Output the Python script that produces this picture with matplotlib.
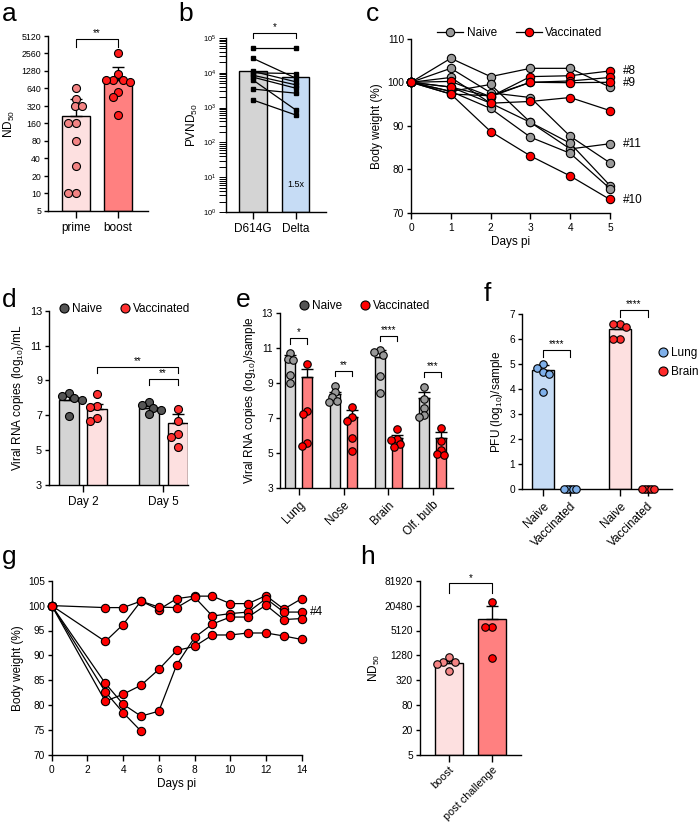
import numpy as np
import matplotlib
matplotlib.use('Agg')
import matplotlib.pyplot as plt
from matplotlib.lines import Line2D
from matplotlib.ticker import LogLocator, NullFormatter

plt.rcParams['font.family'] = ['Liberation Sans', 'DejaVu Sans']
plt.rcParams['mathtext.fontset'] = 'custom'
plt.rcParams['mathtext.rm'] = 'Liberation Sans'
plt.rcParams['mathtext.it'] = 'Liberation Sans:italic'
plt.rcParams['mathtext.bf'] = 'Liberation Sans:bold'
plt.rcParams['axes.linewidth'] = 1.0

# ---------------- data ----------------
# a
a_groups = ['prime', 'boost']
a_prime = [640, 430, 320, 320, 160, 160, 80, 30, 10, 10]
a_boost = [2560, 1140, 900, 900, 900, 822, 567, 453, 222]
a_means = [218, 886]
a_err_top = [422, 1518]
a_yticks = [5, 10, 20, 40, 80, 160, 320, 640, 1280, 2560, 5120]

# b
b_groups = ['D614G', 'Delta']
b_d614g = [53000, 26000, 11000, 10000, 8500, 7500, 6200, 3400, 1650]
b_delta = [53000, 7000, 5500, 9500, 4500, 3600, 850, 2600, 610]
b_means = [11500, 7700]
b_fold = '1.5x'

# c
c_days = [0, 1, 2, 3, 4, 5]
c_naive = [[100, 105.5, 101.3, 103.2, 103.2, 98.9],
           [100, 103.2, 97.6, 96.5, 87.6, 81.5],
           [100, 101.1, 95.2, 90.8, 84.7, 85.9],
           [100, 97.9, 99.5, 90.8, 86.0, 76.3],
           [100, 97.9, 94.0, 87.4, 83.7, 75.6]]
c_vacc = [[100, 100.2, 96.7, 101.3, 101.5, 102.6],
          [100, 98.9, 96.7, 100.0, 100.3, 101.1],
          [100, 97.3, 96.9, 100.0, 99.9, 100.0],
          [100, 98.9, 95.2, 95.6, 96.5, 93.5],
          [100, 97.3, 88.7, 83.1, 78.5, 73.1]]
c_ids = ['#8', '#9', '#11', '#10']
c_id_y = [102.7, 99.8, 85.8, 72.9]

# d
d_days = ['Day 2', 'Day 5']
d_naive = [[8.3, 8.1, 8.0, 7.9, 6.95], [7.75, 7.6, 7.4, 7.3, 7.05]]
d_vacc = [[8.2, 7.55, 7.5, 6.85, 6.7], [7.35, 6.65, 5.95, 5.75, 5.2]]
d_naive_means = [7.85, 7.42]
d_naive_err = [8.1, 7.55]
d_vacc_means = [7.36, 6.58]
d_vacc_err = [7.65, 7.05]

# e
e_tissues = ['Lung', 'Nose', 'Brain', 'Olf. bulb']
e_naive = [[10.7, 10.4, 10.3, 9.45, 9.0], [8.85, 8.5, 8.2, 8.0, 7.9],
           [10.9, 10.8, 10.6, 9.4, 8.45], [8.8, 8.1, 7.55, 7.15, 7.05]]
e_vacc = [[10.1, 7.4, 7.2, 5.55, 5.4], [7.65, 7.05, 6.85, 5.85, 5.1],
          [6.35, 5.8, 5.75, 5.5, 5.35], [6.45, 5.65, 5.15, 4.95, 4.85]]
e_naive_means = [10.32, 8.35, 10.5, 8.16]
e_naive_err = [10.6, 8.5, 10.9, 8.5]
e_vacc_means = [9.37, 7.03, 5.83, 5.87]
e_vacc_err = [9.8, 7.45, 6.05, 6.2]
e_stars = ['*', '**', '****', '***']

# f
f_groups = ['Naive', 'Vaccinated', 'Naive', 'Vaccinated']
f_lung_naive = [5.0, 4.85, 4.7, 4.6, 3.9]
f_lung_vacc = [0, 0, 0, 0, 0]
f_brain_naive = [6.6, 6.6, 6.5, 6.0, 6.0]
f_brain_vacc = [0, 0, 0, 0, 0]
f_means = [4.75, 0, 6.4, 0]
f_err_top = [4.95, 0, 6.55, 0]

# g
g_days = [0, 3, 4, 5, 6, 7, 8, 9, 10, 11, 12, 13, 14]
g_m1 = [100, 99.6, 99.6, 100.9, 99.2, 101.4, 101.9, 101.9, 100.4, 100.4, 102.0, 99.3, 101.4]
g_m2 = [100, 92.8, 96.2, 100.9, 99.7, 99.6, 101.7, 97.9, 98.4, 98.7, 101.4, 98.7, 98.7]
g_m3 = [100, 80.8, 82.2, 84.0, 87.2, 91.0, 91.8, 94.1, 94.1, 94.5, 94.5, 93.9, 93.2]
g_m4 = [100, 84.4, 80.2, 77.8, 78.8, 88.1, 93.6, 96.3, 97.7, 97.7, 100.1, 97.2, 97.4]
g_m5 = [100, 82.7, 78.5, 74.8]

# h
h_groups = ['boost', 'post challenge']
h_boost = [905, 905, 1146, 790, 550]
h_post = [25500, 6290, 6290, 1130]
h_means = [860, 9800]
h_err_top = [950, 20100]
h_yticks = [5, 20, 80, 320, 1280, 5120, 20480, 81920]

# ---------------- helpers ----------------
W, H = 698, 826
fig = plt.figure(figsize=(W / 100, H / 100), dpi=100)

LIGHTPINK = '#fde0e0'
SALMON = '#ff8080'
RED = '#ff1a1a'
DOTPINK = '#f48484'
LGRAY = '#d4d4d4'
LBLUE = '#c6dcf5'
BLUEDOT = '#7fb0ea'
FS = 8.5
TFS = 7.3


def add_ax(l, t, r, b):
    return fig.add_axes([l / W, 1 - b / H, (r - l) / W, (b - t) / H])


def style(ax):
    ax.spines['top'].set_visible(False)
    ax.spines['right'].set_visible(False)
    ax.tick_params(axis='both', direction='out', width=1, labelsize=TFS, colors='black')
    ax.tick_params(axis='y', length=3, pad=2)
    ax.tick_params(axis='x', length=5, pad=3)
    ax.set_facecolor('none')


def swarm(ax, xc, vals, diam, sep=1.0):
    ys = ax.transData.transform([(xc, v) for v in vals])[:, 1]
    d = diam * sep
    order = np.argsort(-ys)
    placed = []
    offs = np.zeros(len(vals))
    for i in order:
        y = ys[i]
        cands = [0.0]
        for po, py in placed:
            dy = abs(py - y)
            if dy < d:
                dx = np.sqrt(d * d - dy * dy)
                cands += [po - dx, po + dx]
        cands = sorted(cands, key=lambda o: (abs(o), o))
        best = 0.0
        for o in cands:
            if all((o - po) ** 2 + (y - py) ** 2 >= d * d * 0.999 for po, py in placed):
                best = o
                break
        placed.append((best, y))
        offs[i] = best
    x0 = ax.transData.transform((xc, 1))[0]
    pts = np.column_stack([x0 + offs, np.full(len(vals), 300.0)])
    return ax.transData.inverted().transform(pts)[:, 0]


def dots(ax, xc, vals, color, diam=8, sep=0.95):
    xs = swarm(ax, xc, vals, diam, sep)
    s = (diam * 0.72) ** 2
    ax.scatter(xs, vals, s=s, color=color, edgecolor='black', linewidth=0.8, zorder=4, clip_on=False)


def bar(ax, x, mean, top, width, color, bottom=0):
    ax.bar([x], [mean - bottom], width, bottom=bottom, color=color, edgecolor='black', linewidth=1, zorder=1)
    if top > mean:
        ax.errorbar([x], [mean], yerr=[[0], [top - mean]], fmt='none', ecolor='black',
                    elinewidth=1, capsize=4.5, capthick=1, zorder=2)


def bracket(ax, x1, x2, ytop, ylow, text, fs=7):
    ax.plot([x1, x1, x2, x2], [ylow, ytop, ytop, ylow], color='black', lw=0.8, clip_on=False)
    ax.annotate(text, xy=((x1 + x2) / 2, ytop), xytext=(0, 0.5), textcoords='offset points',
                ha='center', va='bottom', fontsize=fs, annotation_clip=False)


def letter(x, y, s):
    fig.text(x / W, 1 - y / H, s, fontsize=19, ha='left', va='top')


# ---------------- panel a ----------------
ax = add_ax(48, 36, 148, 211)
style(ax)
ax.set_yscale('log', base=2)
ax.set_ylim(5, 5120)
ax.set_xlim(-0.667, 1.714)
ax.set_yticks(a_yticks)
ax.set_yticklabels([str(v) for v in a_yticks])
ax.minorticks_off()
ax.tick_params(axis='y', labelsize=6.3)
ax.set_xticks([0, 1])
ax.set_xticklabels(a_groups, fontsize=FS)
bar(ax, 0, a_means[0], a_err_top[0], 0.667, LIGHTPINK, bottom=5)
bar(ax, 1, a_means[1], a_err_top[1], 0.667, SALMON, bottom=5)
dots(ax, 0, a_prime, DOTPINK)
dots(ax, 1, a_boost, RED)
ax.set_ylabel('ND$_{50}$', fontsize=FS, labelpad=3)
bracket(ax, 0, 1, 4550, 3300, '**')
letter(2, 2, 'a')

# ---------------- panel b ----------------
ax = add_ax(226, 38, 326, 212)
style(ax)
ax.set_yscale('log')
ax.set_ylim(1, 1e5)
ax.set_xlim(-0.628, 1.70)
ax.yaxis.set_major_locator(LogLocator(base=10, numticks=10))
ax.yaxis.set_minor_locator(LogLocator(base=10, subs=np.arange(2, 10), numticks=20))
ax.yaxis.set_minor_formatter(NullFormatter())
ax.set_yticks([1, 10, 100, 1e3, 1e4, 1e5])
ax.set_yticklabels(['10$^{%d}$' % k for k in range(6)])
ax.tick_params(axis='y', which='both', length=5, width=0.7, labelsize=5.5)
ax.set_xticks([0, 1])
ax.set_xticklabels(b_groups, fontsize=FS)
ax.bar([0], [b_means[0] - 1], 0.63, bottom=1, color=LGRAY, edgecolor='black', lw=1, zorder=1)
ax.bar([1], [b_means[1] - 1], 0.63, bottom=1, color=LBLUE, edgecolor='black', lw=1, zorder=1)
for v1, v2 in zip(b_d614g, b_delta):
    ax.plot([0, 1], [v1, v2], color='black', lw=0.9, marker='s', ms=3.5, zorder=3)
ax.text(1, 6, b_fold, ha='center', va='center', fontsize=6.5)
ax.set_ylabel('PVND$_{50}$', fontsize=FS, labelpad=2)
bracket(ax, 0, 1, 1.39e5, 1e5, '*')
letter(178, 2, 'b')

# ---------------- panel c ----------------
ax = add_ax(411, 38.7, 610, 213)
style(ax)
ax.set_xlim(0, 5)
ax.set_ylim(70, 110)
ax.set_xticks(c_days)
ax.set_yticks([70, 80, 90, 100, 110])
ax.tick_params(axis='x', length=4)
for tr in c_naive:
    ax.plot(c_days, tr, color='black', lw=0.9, marker='o', ms=6, mfc='#999999', mec='black',
            mew=0.8, clip_on=False, zorder=3)
for tr in c_vacc:
    ax.plot(c_days, tr, color='black', lw=0.9, marker='o', ms=6, mfc='#ff0000', mec='black',
            mew=0.8, clip_on=False, zorder=3)
for t, y in zip(c_ids, c_id_y):
    ax.text(5.33, y, t, ha='left', va='center', fontsize=FS)
ax.set_xlabel('Days pi', fontsize=FS, labelpad=2)
ax.set_ylabel('Body weight (%)', fontsize=FS, labelpad=3)
hc = [Line2D([], [], color='black', lw=0.9, marker='o', ms=6, mfc='#999999', mec='black', mew=0.8),
      Line2D([], [], color='black', lw=0.9, marker='o', ms=6, mfc='#ff0000', mec='black', mew=0.8)]
fig.legend(hc, ['Naive', 'Vaccinated'], loc='center', bbox_to_anchor=(520 / W, 1 - 33 / H), ncol=2,
           frameon=False, fontsize=FS, handlelength=2.2, handletextpad=0.3, columnspacing=1.6)
letter(366, 2, 'c')

# ---------------- panel d ----------------
ax = add_ax(49, 310.7, 188, 485)
style(ax)
ax.set_ylim(3, 13)
ax.set_xlim(-0.425, 1.31)
ax.set_yticks([3, 5, 7, 9, 11, 13])
ax.tick_params(axis='y', labelsize=7.8)
ax.set_xticks([0, 1])
ax.set_xticklabels(d_days, fontsize=FS)
off = 0.18
for i in range(2):
    bar(ax, i - off, d_naive_means[i], d_naive_err[i], 0.25, LGRAY)
    bar(ax, i + off, d_vacc_means[i], d_vacc_err[i], 0.25, LIGHTPINK)
for i in range(2):
    dots(ax, i - off, d_naive[i], '#555555', diam=8)
    dots(ax, i + off, d_vacc[i], '#ff3030', diam=8)
ax.set_ylabel('Viral RNA copies (log$_{10}$)/mL', fontsize=FS, labelpad=3)
bracket(ax, off, 1 + off, 9.77, 9.43, '**')
bracket(ax, 1 - off, 1 + off, 9.09, 8.74, '**')
hd = [Line2D([], [], ls='none', marker='o', ms=6.5, mfc='#555555', mec='black', mew=0.8),
      Line2D([], [], ls='none', marker='o', ms=6.5, mfc='#ff3030', mec='black', mew=0.8)]
fig.legend(hd, ['Naive', 'Vaccinated'], loc='center', bbox_to_anchor=(125 / W, 1 - 309 / H), ncol=2,
           frameon=False, fontsize=FS, handlelength=0.8, handletextpad=0.3, columnspacing=1.5)
letter(2, 288, 'd')

# ---------------- panel e ----------------
ax = add_ax(280, 313.3, 453, 487.7)
style(ax)
ax.set_ylim(3, 13)
ax.set_xlim(-0.425, 3.45)
ax.set_yticks([3, 5, 7, 9, 11, 13])
ax.set_xticks(range(4))
ax.set_xticklabels(e_tissues, fontsize=FS, rotation=45, ha='right', rotation_mode='anchor')
off = 0.19
for i in range(4):
    bar(ax, i - off, e_naive_means[i], e_naive_err[i], 0.224, LGRAY)
    bar(ax, i + off, e_vacc_means[i], e_vacc_err[i], 0.224, SALMON)
for i in range(4):
    dots(ax, i - off, e_naive[i], '#999999', diam=7.5, sep=0.8)
    dots(ax, i + off, e_vacc[i], '#ff0000', diam=7.5, sep=0.8)
e_br = [(11.58, 11.26), (9.71, 9.38), (11.72, 11.4), (9.65, 9.33)]
for i in range(4):
    bracket(ax, i - off, i + off, e_br[i][0], e_br[i][1], e_stars[i])
ax.set_ylabel('Viral RNA copies (log$_{10}$)/sample', fontsize=FS, labelpad=3)
fig.legend(hd[:1] + [Line2D([], [], ls='none', marker='o', ms=6.5, mfc='#ff0000', mec='black', mew=0.8)],
           ['Naive', 'Vaccinated'], loc='center', bbox_to_anchor=(365 / W, 1 - 306 / H), ncol=2,
           frameon=False, fontsize=FS, handlelength=0.8, handletextpad=0.3, columnspacing=1.5)
letter(236, 288, 'e')

# ---------------- panel f ----------------
ax = add_ax(522, 314, 672, 489)
style(ax)
ax.set_ylim(0, 7)
fx = [0, 1, 2.8, 3.8]
ax.set_xlim(-0.76, 4.69)
ax.set_yticks(range(8))
ax.set_xticks(fx)
ax.set_xticklabels(f_groups, fontsize=FS, rotation=45, ha='right', rotation_mode='anchor')
fcols = [LBLUE, LBLUE, LIGHTPINK, LIGHTPINK]
for i in range(4):
    if f_means[i] > 0:
        bar(ax, fx[i], f_means[i], f_err_top[i], 0.8, fcols[i])
dots(ax, fx[0], f_lung_naive, BLUEDOT, diam=7.5, sep=0.9)
dots(ax, fx[1], f_lung_vacc, BLUEDOT, diam=7.5, sep=0.4)
dots(ax, fx[2], f_brain_naive, '#ff2a2a', diam=7.5, sep=0.9)
dots(ax, fx[3], f_brain_vacc, '#ff2a2a', diam=7.5, sep=0.4)
bracket(ax, fx[0], fx[1], 5.56, 5.29, '****')
bracket(ax, fx[2], fx[3], 7.16, 6.89, '****')
ax.set_ylabel('PFU (log$_{10}$)/sample', fontsize=FS, labelpad=3)
hf = [Line2D([], [], ls='none', marker='o', ms=6.5, mfc=BLUEDOT, mec='black', mew=0.8),
      Line2D([], [], ls='none', marker='o', ms=6.5, mfc='#ff2a2a', mec='black', mew=0.8)]
fig.legend(hf, ['Lung', 'Brain'], loc='upper left', bbox_to_anchor=(658 / W, 1 - 347 / H),
           frameon=False, fontsize=FS, handlelength=0.8, handletextpad=0.3, labelspacing=0.6,
           borderaxespad=0, borderpad=0)
letter(484, 282, 'f')

# ---------------- panel g ----------------
ax = add_ax(51.7, 580.7, 301.7, 755)
style(ax)
ax.set_xlim(0, 14)
ax.set_ylim(70, 105)
ax.set_xticks(range(0, 15, 2))
ax.set_yticks(range(70, 106, 5))
ax.tick_params(axis='x', length=4)
for tr in [g_m1, g_m2, g_m3, g_m4, g_m5]:
    ax.plot(g_days[:len(tr)], tr, color='black', lw=0.9, marker='o', ms=6, mfc='#ff0000', mec='black',
            mew=0.8, clip_on=False, zorder=3)
ax.text(14.46, 98.7, '#4', ha='left', va='center', fontsize=FS)
ax.set_xlabel('Days pi', fontsize=FS, labelpad=2)
ax.set_ylabel('Body weight (%)', fontsize=FS, labelpad=3)
letter(2, 545, 'g')

# ---------------- panel h ----------------
ax = add_ax(420, 580.7, 520.7, 755)
style(ax)
ax.set_yscale('log', base=2)
ax.set_ylim(5, 81920)
ax.set_xlim(-0.674, 1.667)
ax.set_yticks(h_yticks)
ax.set_yticklabels([str(v) for v in h_yticks])
ax.minorticks_off()
ax.set_xticks([0, 1])
ax.set_xticklabels(h_groups, fontsize=7.8, rotation=45, ha='right', rotation_mode='anchor')
ax.tick_params(axis='x', pad=2)
bar(ax, 0, h_means[0], h_err_top[0], 0.644, LIGHTPINK, bottom=5)
bar(ax, 1, h_means[1], h_err_top[1], 0.644, SALMON, bottom=5)
dots(ax, 0, h_boost, DOTPINK, diam=7.5)
dots(ax, 1, h_post, '#ff0000', diam=7.5)
ax.set_ylabel('ND$_{50}$', fontsize=FS, labelpad=2)
bracket(ax, 0, 1, 70800, 42000, '*')
letter(360, 545, 'h')

fig.savefig('out.png', dpi=100)
